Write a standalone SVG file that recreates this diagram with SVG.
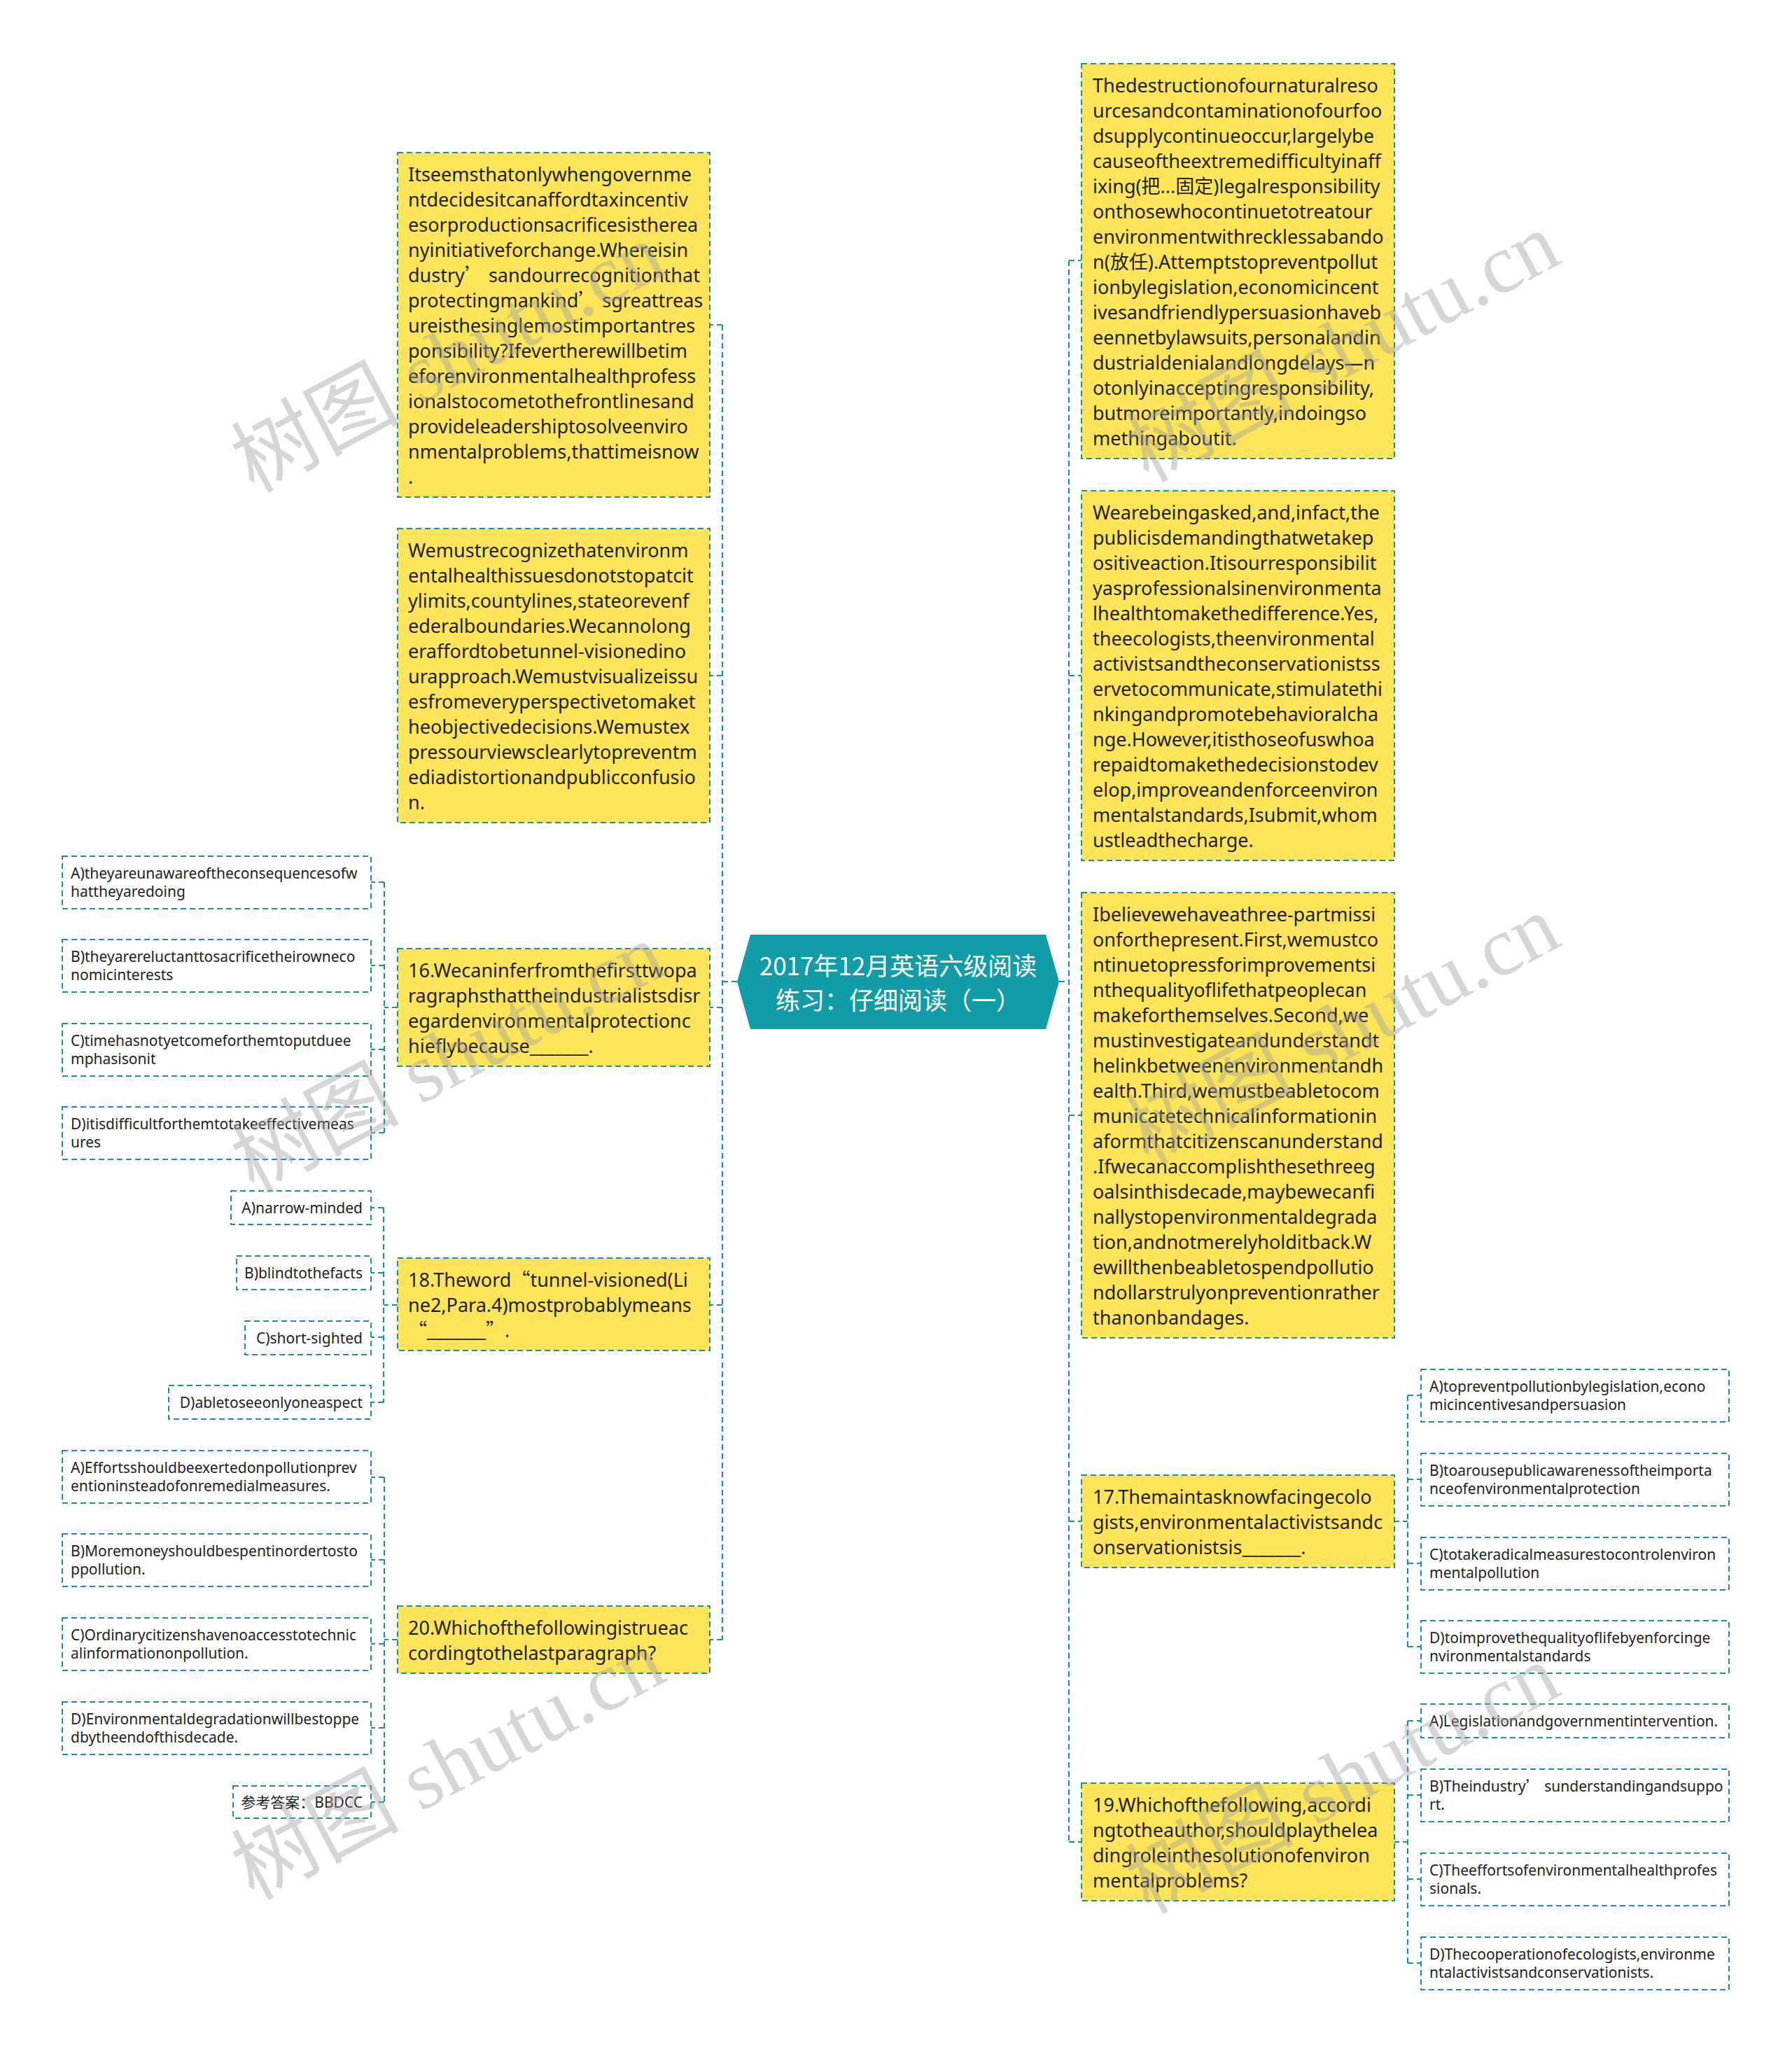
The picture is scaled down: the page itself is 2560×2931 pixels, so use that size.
<svg xmlns="http://www.w3.org/2000/svg" width="2560" height="2931" viewBox="0 0 2560 2931">
<style>
.y{fill:#fde55b;stroke:#1c8f9b;stroke-width:2;stroke-dasharray:8 5}
.o{fill:#ffffff;stroke:#1c8f9b;stroke-width:2;stroke-dasharray:8 5}
.c{fill:none;stroke:#1c8f9b;stroke-width:2.2;stroke-dasharray:8 5}
.t{font-family:"Noto Sans","Noto Sans CJK SC",sans-serif;font-size:27px;fill:#222}
.s{font-family:"Noto Sans","Noto Sans CJK SC",sans-serif;font-size:21px;fill:#222}
.k{font-family:"Noto Sans CJK SC",sans-serif}
.wm{font-family:"Liberation Serif","Noto Sans CJK SC",serif;font-size:120px;fill:#a0a0a0;opacity:0.42}
</style>
<rect width="2560" height="2931" fill="#ffffff"/>
<g id="connectors">
<path class="c" d="M1053,1402H1032M1032,464V2342M1032,464H1013M1032,965H1013M1032,1439H1013M1032,1864H1013M1032,2342H1013"/>
<path class="c" d="M1513,1402H1527M1527,372V2631M1527,372H1545M1527,965H1545M1527,1593H1545M1527,2173H1545M1527,2631H1545"/>
<path class="c" d="M568,1439H549M549,1260V1618M549,1260H530M549,1379H530M549,1499H530M549,1618H530"/>
<path class="c" d="M568,1864H548M548,1725V2003M548,1725H530M548,1818H530M548,1910H530M548,2003H530"/>
<path class="c" d="M568,2342H549M549,2110V2574M549,2110H530M549,2228H530M549,2348H530M549,2468H530M549,2574H530"/>
<path class="c" d="M1991,2173H2011M2011,1993V2352M2011,1993H2030M2011,2113H2030M2011,2233H2030M2011,2352H2030"/>
<path class="c" d="M1991,2631H2011M2011,2458V2804M2011,2458H2030M2011,2564H2030M2011,2684H2030M2011,2804H2030"/>
</g>
<g id="center">
<polygon points="1072,1335 1494,1335 1513,1402 1494,1470 1072,1470 1053,1402" fill="#129ca8"/>
<text x="1283" y="1393" text-anchor="middle" font-family="'Noto Sans CJK SC',sans-serif" font-size="35" fill="#ffffff">2017年12月英语六级阅读</text>
<text x="1283" y="1442" text-anchor="middle" font-family="'Noto Sans CJK SC',sans-serif" font-size="35" fill="#ffffff">练习：仔细阅读（一）</text>
</g>
<g id="L1">
<rect class="y" x="568" y="218" width="446" height="492"/>
<text class="t"><tspan x="583" y="259">Itseemsthatonlywhengovernme</tspan><tspan x="583" y="295">ntdecidesitcanaffordtaxincentiv</tspan><tspan x="583" y="331">esorproductionsacrificesistherea</tspan><tspan x="583" y="367">nyinitiativeforchange.Whereisin</tspan><tspan x="583" y="403">dustry<tspan class="k">’</tspan> sandourrecognitionthat</tspan><tspan x="583" y="439">protectingmankind<tspan class="k">’</tspan> sgreattreas</tspan><tspan x="583" y="475">ureisthesinglemostimportantres</tspan><tspan x="583" y="511">ponsibility?Ifevertherewillbetim</tspan><tspan x="583" y="547">eforenvironmentalhealthprofess</tspan><tspan x="583" y="583">ionalstocometothefrontlinesand</tspan><tspan x="583" y="619">provideleadershiptosolveenviro</tspan><tspan x="583" y="655">nmentalproblems,thattimeisnow</tspan><tspan x="583" y="691">.</tspan></text>
</g>
<g id="L2">
<rect class="y" x="568" y="755" width="446" height="420"/>
<text class="t"><tspan x="583" y="796">Wemustrecognizethatenvironm</tspan><tspan x="583" y="832">entalhealthissuesdonotstopatcit</tspan><tspan x="583" y="868">ylimits,countylines,stateorevenf</tspan><tspan x="583" y="904">ederalboundaries.Wecannolong</tspan><tspan x="583" y="940">eraffordtobetunnel-visionedino</tspan><tspan x="583" y="976">urapproach.Wemustvisualizeissu</tspan><tspan x="583" y="1012">esfromeveryperspectivetomaket</tspan><tspan x="583" y="1048">heobjectivedecisions.Wemustex</tspan><tspan x="583" y="1084">pressourviewsclearlytopreventm</tspan><tspan x="583" y="1120">ediadistortionandpublicconfusio</tspan><tspan x="583" y="1156">n.</tspan></text>
</g>
<g id="Q16">
<rect class="y" x="568" y="1355" width="446" height="168"/>
<text class="t"><tspan x="583" y="1396">16.Wecaninferfromthefirsttwopa</tspan><tspan x="583" y="1432">ragraphsthattheindustrialistsdisr</tspan><tspan x="583" y="1468">egardenvironmentalprotectionc</tspan><tspan x="583" y="1504">hieflybecause_______.</tspan></text>
</g>
<g id="Q16A"><rect class="o" x="89" y="1223" width="441" height="75"/><text class="s"><tspan x="101" y="1255">A)theyareunawareoftheconsequencesofw</tspan><tspan x="101" y="1281">hattheyaredoing</tspan></text></g>
<g id="Q16B"><rect class="o" x="89" y="1342" width="441" height="75"/><text class="s"><tspan x="101" y="1374">B)theyarereluctanttosacrificetheirowneco</tspan><tspan x="101" y="1400">nomicinterests</tspan></text></g>
<g id="Q16C"><rect class="o" x="89" y="1462" width="441" height="75"/><text class="s"><tspan x="101" y="1494">C)timehasnotyetcomeforthemtoputduee</tspan><tspan x="101" y="1520">mphasisonit</tspan></text></g>
<g id="Q16D"><rect class="o" x="89" y="1581" width="441" height="75"/><text class="s"><tspan x="101" y="1613">D)itisdifficultforthemtotakeeffectivemeas</tspan><tspan x="101" y="1639">ures</tspan></text></g>
<g id="Q18">
<rect class="y" x="568" y="1797" width="446" height="132"/>
<text class="t"><tspan x="583" y="1838">18.Theword<tspan class="k">“</tspan>tunnel-visioned(Li</tspan><tspan x="583" y="1874">ne2,Para.4)mostprobablymeans</tspan><tspan x="583" y="1910"><tspan class="k">“</tspan>_______<tspan class="k">”</tspan>.</tspan></text>
</g>
<g id="Q18A"><rect class="o" x="330" y="1701" width="200" height="48"/><text class="s" x="518" y="1733" text-anchor="end">A)narrow-minded</text></g>
<g id="Q18B"><rect class="o" x="338" y="1794" width="192" height="48"/><text class="s" x="518" y="1826" text-anchor="end">B)blindtothefacts</text></g>
<g id="Q18C"><rect class="o" x="350" y="1887" width="180" height="48"/><text class="s" x="518" y="1919" text-anchor="end">C)short-sighted</text></g>
<g id="Q18D"><rect class="o" x="241" y="1979" width="289" height="48"/><text class="s" x="518" y="2011" text-anchor="end">D)abletoseeonlyoneaspect</text></g>
<g id="Q20">
<rect class="y" x="568" y="2294" width="446" height="96"/>
<text class="t"><tspan x="583" y="2335">20.Whichofthefollowingistrueac</tspan><tspan x="583" y="2371">cordingtothelastparagraph?</tspan></text>
</g>
<g id="Q20A"><rect class="o" x="89" y="2072" width="441" height="75"/><text class="s"><tspan x="101" y="2104">A)Effortsshouldbeexertedonpollutionprev</tspan><tspan x="101" y="2130">entioninsteadofonremedialmeasures.</tspan></text></g>
<g id="Q20B"><rect class="o" x="89" y="2191" width="441" height="75"/><text class="s"><tspan x="101" y="2223">B)Moremoneyshouldbespentinordertosto</tspan><tspan x="101" y="2249">ppollution.</tspan></text></g>
<g id="Q20C"><rect class="o" x="89" y="2311" width="441" height="75"/><text class="s"><tspan x="101" y="2343">C)Ordinarycitizenshavenoaccesstotechnic</tspan><tspan x="101" y="2369">alinformationonpollution.</tspan></text></g>
<g id="Q20D"><rect class="o" x="89" y="2431" width="441" height="75"/><text class="s"><tspan x="101" y="2463">D)Environmentaldegradationwillbestoppe</tspan><tspan x="101" y="2489">dbytheendofthisdecade.</tspan></text></g>
<g id="Answer"><rect class="o" x="333" y="2551" width="197" height="46"/><text class="s" x="518" y="2582" text-anchor="end">参考答案：BBDCC</text></g>
<g id="R1">
<rect class="y" x="1545" y="91" width="447" height="564"/>
<text class="t"><tspan x="1561" y="132">Thedestructionofournaturalreso</tspan><tspan x="1561" y="168">urcesandcontaminationofourfoo</tspan><tspan x="1561" y="204">dsupplycontinueoccur,largelybe</tspan><tspan x="1561" y="240">causeoftheextremedifficultyinaff</tspan><tspan x="1561" y="276">ixing(把...固定)legalresponsibility</tspan><tspan x="1561" y="312">onthosewhocontinuetotreatour</tspan><tspan x="1561" y="348">environmentwithrecklessabando</tspan><tspan x="1561" y="384">n(放任).Attemptstopreventpollut</tspan><tspan x="1561" y="420">ionbylegislation,economicincent</tspan><tspan x="1561" y="456">ivesandfriendlypersuasionhaveb</tspan><tspan x="1561" y="492">eennetbylawsuits,personalandin</tspan><tspan x="1561" y="528">dustrialdenialandlongdelays—n</tspan><tspan x="1561" y="564">otonlyinacceptingresponsibility,</tspan><tspan x="1561" y="600">butmoreimportantly,indoingso</tspan><tspan x="1561" y="636">methingaboutit.</tspan></text>
</g>
<g id="R2">
<rect class="y" x="1545" y="701" width="447" height="528"/>
<text class="t"><tspan x="1561" y="742">Wearebeingasked,and,infact,the</tspan><tspan x="1561" y="778">publicisdemandingthatwetakep</tspan><tspan x="1561" y="814">ositiveaction.Itisourresponsibilit</tspan><tspan x="1561" y="850">yasprofessionalsinenvironmenta</tspan><tspan x="1561" y="886">lhealthtomakethedifference.Yes,</tspan><tspan x="1561" y="922">theecologists,theenvironmental</tspan><tspan x="1561" y="958">activistsandtheconservationistss</tspan><tspan x="1561" y="994">ervetocommunicate,stimulatethi</tspan><tspan x="1561" y="1030">nkingandpromotebehavioralcha</tspan><tspan x="1561" y="1066">nge.However,itisthoseofuswhoa</tspan><tspan x="1561" y="1102">repaidtomakethedecisionstodev</tspan><tspan x="1561" y="1138">elop,improveandenforceenviron</tspan><tspan x="1561" y="1174">mentalstandards,Isubmit,whom</tspan><tspan x="1561" y="1210">ustleadthecharge.</tspan></text>
</g>
<g id="R3">
<rect class="y" x="1545" y="1275" width="447" height="636"/>
<text class="t"><tspan x="1561" y="1316">Ibelievewehaveathree-partmissi</tspan><tspan x="1561" y="1352">onforthepresent.First,wemustco</tspan><tspan x="1561" y="1388">ntinuetopressforimprovementsi</tspan><tspan x="1561" y="1424">nthequalityoflifethatpeoplecan</tspan><tspan x="1561" y="1460">makeforthemselves.Second,we</tspan><tspan x="1561" y="1496">mustinvestigateandunderstandt</tspan><tspan x="1561" y="1532">helinkbetweenenvironmentandh</tspan><tspan x="1561" y="1568">ealth.Third,wemustbeabletocom</tspan><tspan x="1561" y="1604">municatetechnicalinformationin</tspan><tspan x="1561" y="1640">aformthatcitizenscanunderstand</tspan><tspan x="1561" y="1676">.Ifwecanaccomplishthesethreeg</tspan><tspan x="1561" y="1712">oalsinthisdecade,maybewecanfi</tspan><tspan x="1561" y="1748">nallystopenvironmentaldegrada</tspan><tspan x="1561" y="1784">tion,andnotmerelyholditback.W</tspan><tspan x="1561" y="1820">ewillthenbeabletospendpollutio</tspan><tspan x="1561" y="1856">ndollarstrulyonpreventionrather</tspan><tspan x="1561" y="1892">thanonbandages.</tspan></text>
</g>
<g id="Q17">
<rect class="y" x="1545" y="2107" width="447" height="132"/>
<text class="t"><tspan x="1561" y="2148">17.Themaintasknowfacingecolo</tspan><tspan x="1561" y="2184">gists,environmentalactivistsandc</tspan><tspan x="1561" y="2220">onservationistsis_______.</tspan></text>
</g>
<g id="Q17A"><rect class="o" x="2030" y="1956" width="440" height="75"/><text class="s"><tspan x="2042" y="1988">A)topreventpollutionbylegislation,econo</tspan><tspan x="2042" y="2014">micincentivesandpersuasion</tspan></text></g>
<g id="Q17B"><rect class="o" x="2030" y="2076" width="440" height="75"/><text class="s"><tspan x="2042" y="2108">B)toarousepublicawarenessoftheimporta</tspan><tspan x="2042" y="2134">nceofenvironmentalprotection</tspan></text></g>
<g id="Q17C"><rect class="o" x="2030" y="2196" width="440" height="75"/><text class="s"><tspan x="2042" y="2228">C)totakeradicalmeasurestocontrolenviron</tspan><tspan x="2042" y="2254">mentalpollution</tspan></text></g>
<g id="Q17D"><rect class="o" x="2030" y="2315" width="440" height="75"/><text class="s"><tspan x="2042" y="2347">D)toimprovethequalityoflifebyenforcinge</tspan><tspan x="2042" y="2373">nvironmentalstandards</tspan></text></g>
<g id="Q19">
<rect class="y" x="1545" y="2547" width="447" height="168"/>
<text class="t"><tspan x="1561" y="2588">19.Whichofthefollowing,accordi</tspan><tspan x="1561" y="2624">ngtotheauthor,shouldplaythelea</tspan><tspan x="1561" y="2660">dingroleinthesolutionofenviron</tspan><tspan x="1561" y="2696">mentalproblems?</tspan></text>
</g>
<g id="Q19A"><rect class="o" x="2030" y="2434" width="440" height="48"/><text class="s" x="2042" y="2466">A)Legislationandgovernmentintervention.</text></g>
<g id="Q19B"><rect class="o" x="2030" y="2527" width="440" height="75"/><text class="s"><tspan x="2042" y="2559">B)Theindustry<tspan class="k">’</tspan> sunderstandingandsuppo</tspan><tspan x="2042" y="2585">rt.</tspan></text></g>
<g id="Q19C"><rect class="o" x="2030" y="2647" width="440" height="75"/><text class="s"><tspan x="2042" y="2679">C)Theeffortsofenvironmentalhealthprofes</tspan><tspan x="2042" y="2705">sionals.</tspan></text></g>
<g id="Q19D"><rect class="o" x="2030" y="2767" width="440" height="75"/><text class="s"><tspan x="2042" y="2799">D)Thecooperationofecologists,environme</tspan><tspan x="2042" y="2825">ntalactivistsandconservationists.</tspan></text></g>
<g id="watermarks">
<text class="wm" transform="translate(362,705) rotate(-28)">树图 shutu.cn</text>
<text class="wm" transform="translate(1640,690) rotate(-28)">树图 shutu.cn</text>
<text class="wm" transform="translate(362,1705) rotate(-28)">树图 shutu.cn</text>
<text class="wm" transform="translate(1640,1665) rotate(-28)">树图 shutu.cn</text>
<text class="wm" transform="translate(362,2715) rotate(-28)">树图 shutu.cn</text>
<text class="wm" transform="translate(1640,2735) rotate(-28)">树图 shutu.cn</text>
</g>
</svg>
